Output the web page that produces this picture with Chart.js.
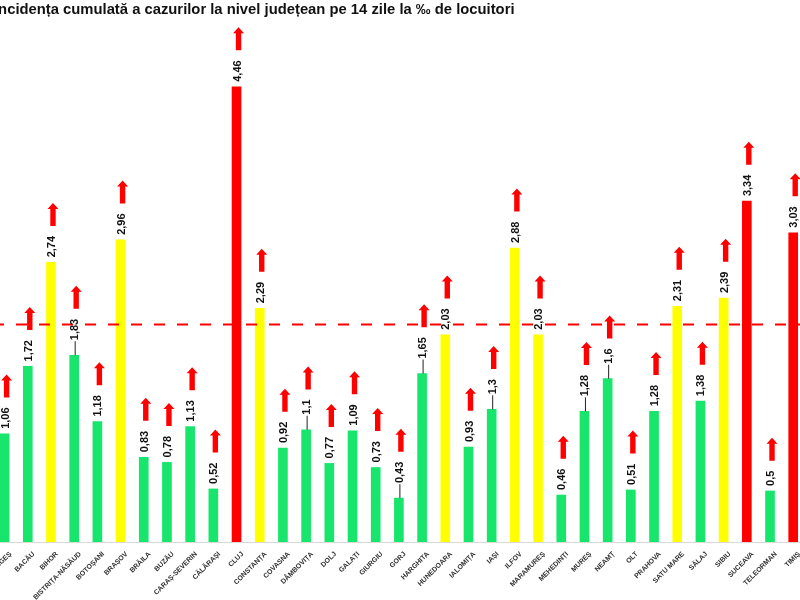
<!DOCTYPE html>
<html>
<head>
<meta charset="utf-8">
<script src="https://cdn.jsdelivr.net/npm/chart.js@4.4.0/dist/chart.umd.min.js"></script>
<style>
  body { margin: 0; background: #fff; overflow: hidden; width: 800px; height: 600px; position: relative; }
  #title { position: absolute; left: -6px; top: 1px; font: bold 14.8px "Liberation Sans", Arial, sans-serif; color: #111; white-space: nowrap; z-index: 2; }
  #wrap { position: absolute; left: -7px; top: 0; width: 835px; height: 600px; }
</style>
</head>
<body>
<div id="title">Incidența cumulată a cazurilor la nivel județean pe 14 zile la ‰ de locuitori</div>
<div id="wrap"><canvas id="c"></canvas></div>
<script>
const COUNTIES = [
  "ARGEȘ", "BACĂU", "BIHOR", "BISTRIȚA-NĂSĂUD", "BOTOȘANI", "BRAȘOV", "BRĂILA", "BUZĂU",
  "CARAȘ-SEVERIN", "CĂLĂRAȘI", "CLUJ", "CONSTANȚA", "COVASNA", "DÂMBOVIȚA", "DOLJ", "GALAȚI",
  "GIURGIU", "GORJ", "HARGHITA", "HUNEDOARA", "IALOMIȚA", "IAȘI", "ILFOV", "MARAMUREȘ",
  "MEHEDINȚI", "MUREȘ", "NEAMȚ", "OLT", "PRAHOVA", "SATU MARE", "SĂLAJ", "SIBIU",
  "SUCEAVA", "TELEORMAN", "TIMIȘ", "TULCEA"
];
const INCIDENCE = [
  1.06, 1.72, 2.74, 1.83, 1.18, 2.96, 0.83, 0.78,
  1.13, 0.52, 4.46, 2.29, 0.92, 1.1, 0.77, 1.09,
  0.73, 0.43, 1.65, 2.03, 0.93, 1.3, 2.88, 2.03,
  0.46, 1.28, 1.6, 0.51, 1.28, 2.31, 1.38, 2.39,
  3.34, 0.5, 3.03, null
];
// counties whose value label sits higher with a small leader line
const CALLOUTS = ["BISTRIȚA-NĂSĂUD", "DÂMBOVIȚA", "GORJ", "HARGHITA", "IAȘI", "MUREȘ", "NEAMȚ"];
const THRESHOLD = 2.13;

function barColor(v) {
  if (v > 3) return "#ff0000";
  if (v >= 2) return "#ffff00";
  return "#18e66c";
}

function fmt(v) {
  return String(v).replace(".", ",");
}

function drawArrow(ctx, x, bottom) {
  const h = 23, head = 6, hw = 5.5, sw = 2.7;
  ctx.beginPath();
  ctx.moveTo(x - sw, bottom);
  ctx.lineTo(x - sw, bottom - h + head);
  ctx.lineTo(x - hw, bottom - h + head);
  ctx.lineTo(x, bottom - h);
  ctx.lineTo(x + hw, bottom - h + head);
  ctx.lineTo(x + sw, bottom - h + head);
  ctx.lineTo(x + sw, bottom);
  ctx.closePath();
  ctx.fillStyle = "#ff0000";
  ctx.fill();
}

const overlay = {
  id: "overlay",
  afterDatasetsDraw(chart) {
    const ctx = chart.ctx;
    const area = chart.chartArea;
    const y = chart.scales.y.getPixelForValue(THRESHOLD);
    ctx.save();
    ctx.strokeStyle = "#ff0000";
    ctx.lineWidth = 2;
    ctx.setLineDash([11, 12]);
    ctx.beginPath();
    ctx.moveTo(area.left, y);
    ctx.lineTo(area.right, y);
    ctx.stroke();
    ctx.setLineDash([]);

    ctx.font = 'bold 11px "Liberation Sans", Arial, sans-serif';
    ctx.textBaseline = "middle";
    ctx.textAlign = "left";
    const meta = chart.getDatasetMeta(0);
    meta.data.forEach((bar, i) => {
      const v = INCIDENCE[i];
      if (v === null) return;
      const txt = fmt(v);
      const w = ctx.measureText(txt).width;
      const callout = CALLOUTS.includes(COUNTIES[i]);
      const gap = callout ? 15 : 5;
      const lx = bar.x + 1;
      const start = bar.y - gap;
      if (callout) {
        ctx.strokeStyle = "#222";
        ctx.lineWidth = 1;
        ctx.beginPath();
        ctx.moveTo(lx, bar.y);
        ctx.lineTo(lx, start + 1);
        ctx.stroke();
      }
      ctx.save();
      ctx.translate(lx, start);
      ctx.rotate(-Math.PI / 2);
      ctx.fillStyle = "#111";
      ctx.fillText(txt, 0, 0);
      ctx.restore();
      drawArrow(ctx, bar.x + 2, start - w - 10);
    });
    ctx.restore();
  }
};

new Chart(document.getElementById("c"), {
  type: "bar",
  data: {
    labels: COUNTIES,
    datasets: [{
      data: INCIDENCE,
      backgroundColor: INCIDENCE.map(barColor),
      barThickness: 9
    }]
  },
  options: {
    responsive: true,
    maintainAspectRatio: false,
    animation: false,
    layout: { padding: 0 },
    plugins: { legend: { display: false }, tooltip: { enabled: false } },
    scales: {
      x: {
        grid: { display: false },
        border: { display: true, color: "#d9d9d9", width: 1 },
        ticks: {
          autoSkip: false,
          minRotation: 45,
          maxRotation: 45,
          padding: 0,
          labelOffset: 6,
          color: "#333",
          font: { family: '"Liberation Sans", Arial, sans-serif', size: 7, weight: "bold" }
        },
        afterFit(scale) {
          scale.paddingLeft = 0;
          scale.paddingRight = 0;
          scale.height = 58;
        }
      },
      y: { display: false, min: 0, max: 5.31 }
    }
  },
  plugins: [overlay]
});
</script>
</body>
</html>
